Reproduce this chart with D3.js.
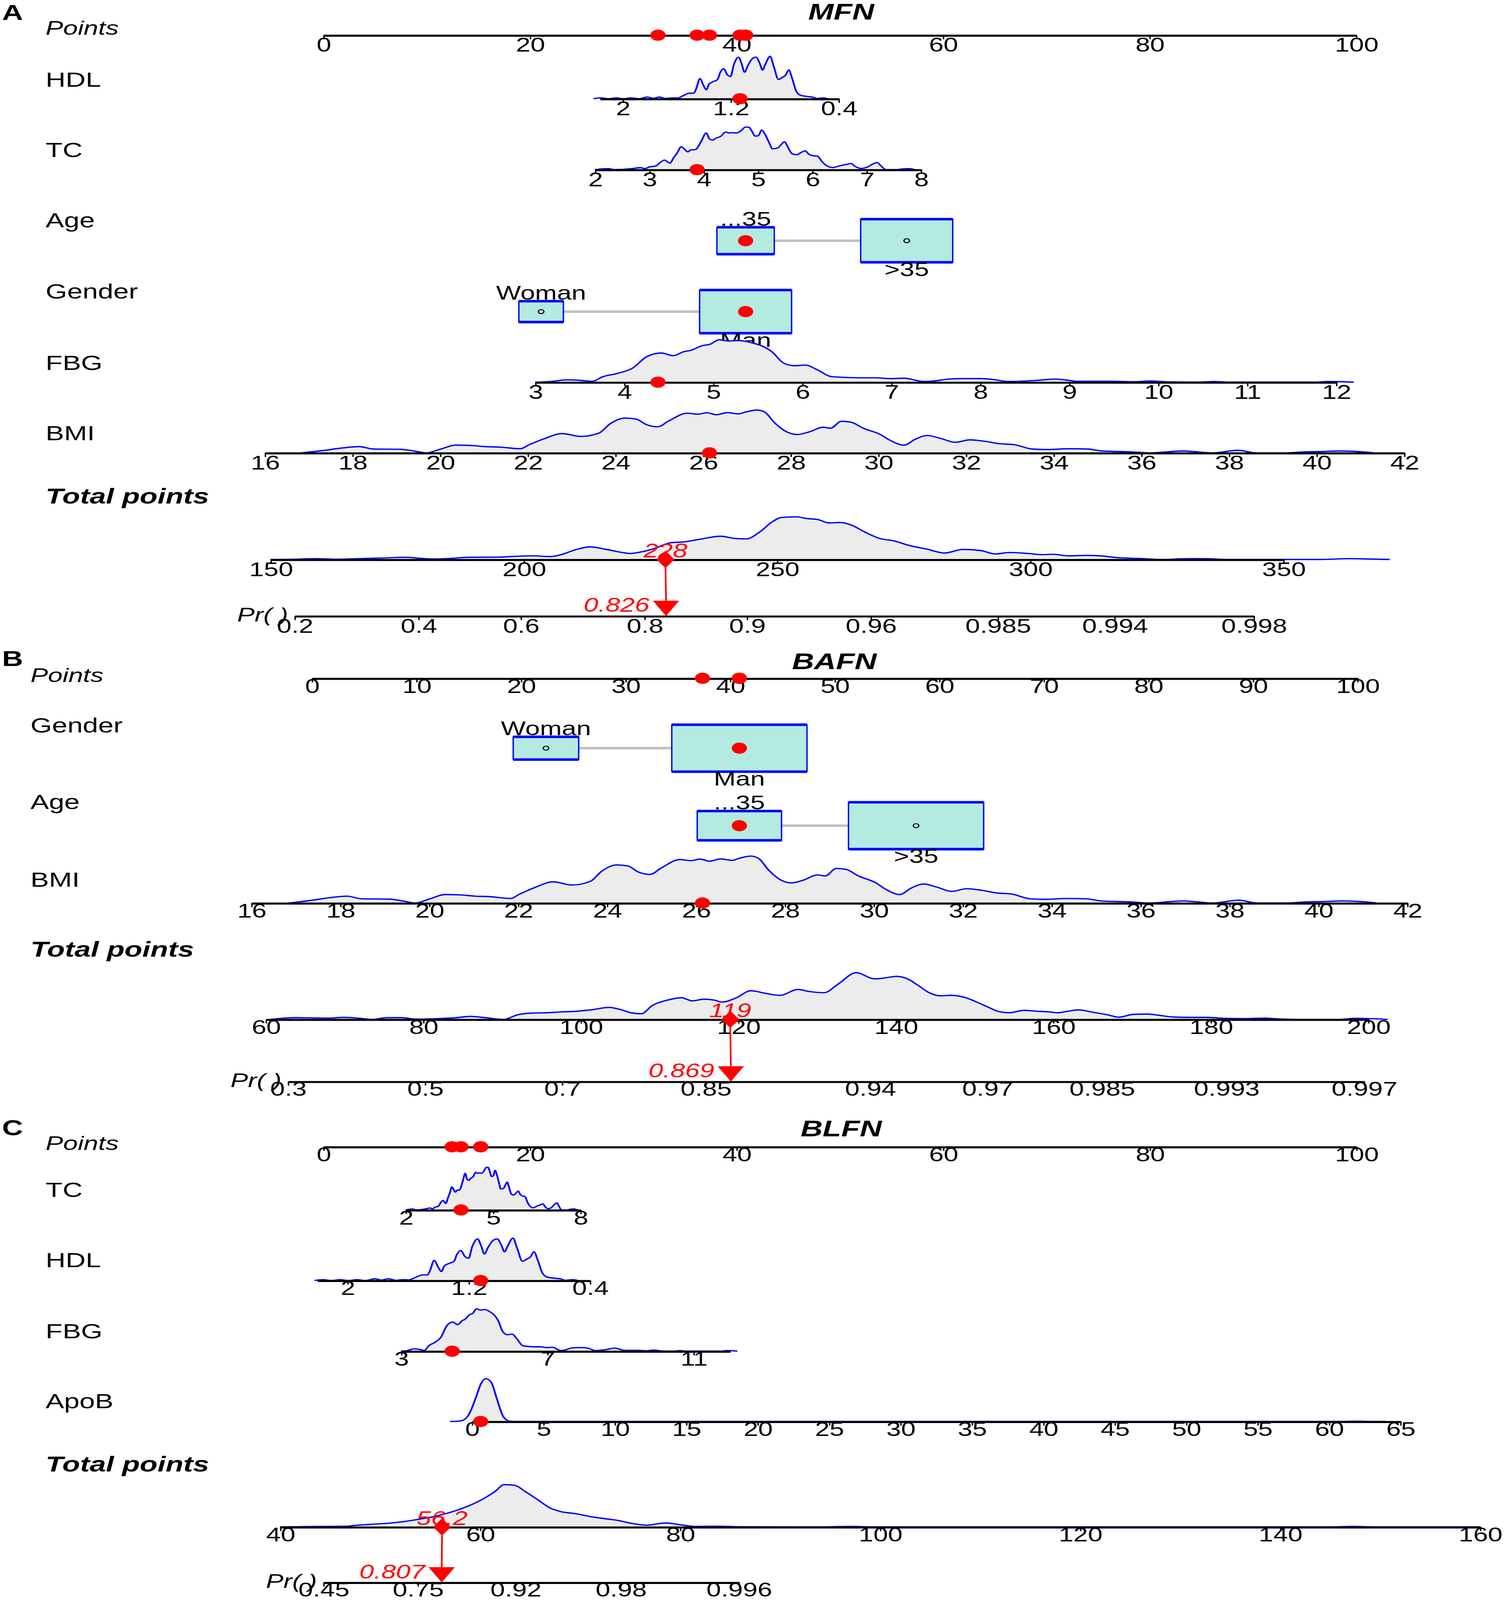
<!DOCTYPE html>
<html>
<head>
<meta charset="utf-8">
<script src="https://cdn.jsdelivr.net/npm/d3@7/dist/d3.min.js"></script>
<style>
  html, body { margin: 0; padding: 0; background: #fff; overflow: hidden; }
  svg { display: block; }
  svg text { font-family: "Liberation Sans", Arial, sans-serif; }
</style>
</head>
<body>
<svg id="chart"></svg>
<script>
// ---------- data ----------
const pointsTicks20 = [0, 20, 40, 60, 80, 100];
const pointsTicks10 = [0, 10, 20, 30, 40, 50, 60, 70, 80, 90, 100];
const hdlTicks = [2, 1.2, 0.4];
const tcTicksA = [2, 3, 4, 5, 6, 7, 8];
const tcTicksC = [2, 5, 8];
const fbgTicksA = [3, 4, 5, 6, 7, 8, 9, 10, 11, 12];
const fbgTicksC = [3, 7, 11];
const bmiTicks = [16, 18, 20, 22, 24, 26, 28, 30, 32, 34, 36, 38, 40, 42];
const apobTicks = [0, 5, 10, 15, 20, 25, 30, 35, 40, 45, 50, 55, 60, 65];
const totalTicksA = [150, 200, 250, 300, 350];
const totalTicksB = [60, 80, 100, 120, 140, 160, 180, 200];
const totalTicksC = [40, 60, 80, 100, 120, 140, 160];
const prTicksA = [0.2, 0.4, 0.6, 0.8, 0.9, 0.96, 0.985, 0.994, 0.998];
const prTicksB = [0.3, 0.5, 0.7, 0.85, 0.94, 0.97, 0.985, 0.993, 0.997];
const prTicksC = [0.45, 0.75, 0.92, 0.98, 0.996];

const genderCats = ["Woman", "Man"];
const genderFreq = [0.19, 0.81];
const ageCats = ["...35", ">35"];
const ageFreq = [0.28, 0.72];
const mfnGenderPts = [21.1, 40.9];
const mfnAgePts = [40.9, 56.5];
const bafnGenderPts = [22.4, 40.9];
const bafnAgePts = [40.9, 57.8];

// observed patient values
const mfnObserved = { HDL: 1.13, TC: 3.88, Age: "...35", Gender: "Man", FBG: 4.38, BMI: 26.15 };
const bafnObserved = { Gender: "Man", Age: "...35", BMI: 26.15 };
const blfnObserved = { TC: 3.9, HDL: 1.12, FBG: 4.4, ApoB: 0.62 };
const totalScores = [228, 119, 56.2];
const totalLabels = ["228", "119", "56.2"];
const probs = [0.826, 0.869, 0.807];
const probLabels = ["0.826", "0.869", "0.807"];

// density shapes [value, relative height]
const hdlDensity = [[2.216,0],[2.16,0.02],[2.104,0],[2.048,0.02],[1.992,0],[1.936,0.02],[1.88,0],[1.816,0.04],[1.776,0.01],[1.728,0.04],[1.68,0.005],[1.632,0.02],[1.592,0.016],[1.552,0.07],[1.504,0.13],[1.472,0.13],[1.456,0.22],[1.427,0.47],[1.4,0.31],[1.379,0.21],[1.36,0.34],[1.328,0.4],[1.296,0.45],[1.277,0.61],[1.251,0.7],[1.224,0.56],[1.2,0.52],[1.176,0.79],[1.141,0.97],[1.117,0.81],[1.096,0.62],[1.072,0.77],[1.04,0.93],[1.011,0.97],[0.984,0.83],[0.963,0.67],[0.944,0.79],[0.907,0.99],[0.88,0.76],[0.845,0.45],[0.816,0.5],[0.792,0.55],[0.768,0.67],[0.744,0.48],[0.712,0.17],[0.68,0.08],[0.64,0.056],[0.592,0.038],[0.56,0.005],[0.512,0.02],[0.48,0]];
const tcDensity = [[2.0,0],[2.24,0.023],[2.36,0],[2.68,0.023],[2.84,0.046],[2.92,0.023],[3.0,0.062],[3.12,0.085],[3.2,0.165],[3.28,0.222],[3.38,0.153],[3.45,0.279],[3.51,0.382],[3.59,0.535],[3.65,0.474],[3.71,0.416],[3.77,0.462],[3.83,0.462],[3.87,0.485],[3.95,0.645],[4.05,0.856],[4.11,0.714],[4.17,0.691],[4.23,0.737],[4.31,0.771],[4.41,0.879],[4.47,0.856],[4.53,0.863],[4.61,0.856],[4.69,0.908],[4.77,0.993],[4.83,0.993],[4.89,0.897],[4.95,0.783],[5.01,0.794],[5.07,0.924],[5.13,0.828],[5.21,0.622],[5.27,0.487],[5.37,0.508],[5.43,0.588],[5.49,0.65],[5.55,0.531],[5.63,0.371],[5.71,0.348],[5.79,0.394],[5.87,0.439],[5.94,0.359],[6.02,0.325],[6.1,0.314],[6.18,0.188],[6.26,0.096],[6.38,0.05],[6.5,0.085],[6.62,0.119],[6.72,0.142],[6.78,0.085],[6.9,0.027],[7.02,0.062],[7.12,0.133],[7.2,0.165],[7.26,0.096],[7.36,0],[7.54,0],[7.66,0.016],[7.78,0.023],[7.9,0]];
const fbgDensity = [[3.0,0],[3.18,0.016],[3.35,0.055],[3.51,0.043],[3.64,0.02],[3.76,0.128],[3.93,0.208],[4.09,0.323],[4.26,0.603],[4.42,0.681],[4.55,0.62],[4.67,0.711],[4.75,0.745],[4.88,0.854],[4.96,0.882],[5.07,0.991],[5.17,0.961],[5.29,0.973],[5.42,0.927],[5.56,0.836],[5.66,0.711],[5.79,0.449],[5.91,0.385],[6.04,0.399],[6.16,0.301],[6.33,0.13],[6.49,0.112],[6.66,0.103],[6.82,0.103],[6.99,0.084],[7.15,0.093],[7.36,0.016],[7.48,0.027],[7.65,0.073],[7.81,0.084],[8.02,0.084],[8.15,0.062],[8.31,0.016],[8.52,0.027],[8.68,0.05],[8.85,0.073],[8.97,0.05],[9.1,0.02],[9.47,0.02],[9.72,0.011],[9.92,0.027],[10.13,0.007],[10.46,0.002],[10.63,0.016],[10.79,0.002],[11.78,0.002],[11.91,0.016],[12.07,0.011],[12.2,0]];
const bmiDensity = [[16.84,0],[17.34,0.056],[17.76,0.113],[18.15,0.147],[18.48,0.09],[19.1,0.083],[19.44,0.038],[19.69,0],[20.02,0.09],[20.36,0.181],[20.69,0.174],[21.03,0.147],[21.37,0.135],[21.83,0.097],[22.04,0.192],[22.37,0.327],[22.79,0.451],[23.21,0.384],[23.63,0.463],[23.88,0.677],[24.22,0.813],[24.47,0.79],[24.72,0.655],[24.97,0.609],[25.22,0.745],[25.64,0.926],[25.89,0.903],[26.09,0.937],[26.31,0.892],[26.56,0.941],[26.81,0.91],[26.98,0.955],[27.23,1.0],[27.4,0.959],[27.65,0.688],[27.9,0.497],[28.15,0.429],[28.41,0.485],[28.74,0.598],[28.91,0.576],[29.16,0.738],[29.38,0.716],[29.66,0.576],[30.05,0.429],[30.25,0.305],[30.59,0.181],[30.84,0.316],[31.12,0.406],[31.42,0.339],[31.76,0.248],[32.09,0.305],[32.43,0.271],[32.77,0.214],[33.1,0.192],[33.52,0.09],[33.86,0.079],[34.36,0.097],[34.78,0.09],[35.11,0.045],[35.78,0.023],[36.2,0],[36.96,0.045],[37.29,0.023],[37.63,0],[38.21,0.061],[38.63,0],[39.3,0],[39.72,0.023],[40.06,0.029],[40.56,0.045],[40.98,0.029],[41.31,0]];
const apobDensity = [[-1.52,0],[-0.82,0.01],[-0.27,0.128],[0.27,0.545],[0.65,0.889],[0.98,1],[1.36,0.914],[1.74,0.545],[2.18,0.128],[2.61,0.01],[2.99,0],[60.9,0],[61.8,0.008],[63.2,0],[64,0]];
const totalDensityA = [[150,0],[154.6,0.005],[158.9,0.02],[163.1,0.005],[167.4,0.02],[171.7,0.032],[176.7,0.05],[179.6,0.027],[182.4,0.011],[186,0.027],[188.9,0.05],[194.6,0.054],[198.1,0.072],[201.7,0.086],[205.3,0.068],[207.4,0.113],[210.3,0.23],[213.1,0.294],[216,0.242],[218.9,0.174],[221,0.14],[223.1,0.174],[226,0.264],[228.9,0.389],[231.7,0.411],[234.6,0.468],[238.9,0.543],[241.7,0.49],[243.9,0.48],[246.7,0.649],[248.9,0.864],[251,0.982],[253.9,0.995],[256,0.955],[258.1,0.932],[260.3,0.853],[262.4,0.864],[264.6,0.808],[267.4,0.638],[270.3,0.49],[273.1,0.434],[276,0.332],[279.6,0.242],[283.1,0.151],[286.7,0.235],[290.3,0.208],[293.1,0.129],[296,0.163],[299.6,0.14],[302.4,0.113],[304.6,0.122],[307.4,0.084],[311,0.095],[313.9,0.084],[317.4,0.041],[321.7,0.023],[326,0],[330.3,0.016],[334.6,0.02],[338.9,0],[350,0],[357.4,0],[363.1,0.02],[367.4,0.009],[371,0]];
const totalDensityB = [[60.6,0],[63.8,0.037],[66.2,0.031],[68,0.027],[69.9,0.043],[71.7,0.027],[73.6,0],[75.4,0.037],[77.3,0.037],[79.1,0.006],[81.9,0.017],[84.2,0.037],[86,0.064],[87.9,0.037],[90.2,0],[92,0.099],[93.9,0.135],[95.7,0.141],[97.6,0.161],[99.4,0.172],[101.3,0.203],[103.6,0.255],[105,0.213],[106.4,0.141],[107.7,0.12],[109.1,0.296],[111,0.41],[112.8,0.462],[114.2,0.395],[115.6,0.43],[117,0.41],[117.9,0.369],[119.8,0.462],[121.6,0.611],[123.5,0.555],[125.3,0.513],[127.6,0.638],[129,0.596],[130.9,0.569],[132.7,0.752],[135,0.996],[137.3,0.865],[138.3,0.876],[140.1,0.917],[141.5,0.865],[142.9,0.72],[144.3,0.565],[145.7,0.503],[147,0.513],[148.9,0.462],[150.3,0.369],[151.7,0.265],[153,0.172],[154.4,0.141],[156.3,0.193],[158.1,0.172],[159.5,0.161],[160.5,0.141],[161.8,0.172],[163.2,0.203],[165.1,0.151],[166.9,0.099],[168.3,0.048],[170.2,0.108],[172,0.114],[173.4,0.089],[175.2,0.052],[177.5,0.043],[179.4,0.043],[181.7,0.023],[184.5,0.017],[186.8,0.027],[189.1,0.006],[191.9,0],[196.5,0],[198.3,0.023],[200.2,0.017],[202.5,0]];
const totalDensityC = [[40,0],[42.1,0.007],[44.4,0.012],[46.7,0.017],[47.5,0.037],[49.1,0.062],[51.4,0.099],[53.7,0.173],[55.7,0.259],[57.6,0.383],[59,0.506],[60.3,0.654],[61.5,0.827],[62.4,0.988],[63.4,0.975],[64.6,0.815],[65.8,0.63],[67.1,0.432],[68.1,0.358],[69.6,0.309],[71.2,0.235],[72.8,0.185],[73.9,0.148],[75.1,0.086],[76.6,0.042],[78.6,0.094],[80.1,0.049],[81.5,0.012],[83.6,0.017],[86.4,0.005],[93.3,0],[97.2,0.012],[99.6,0],[144.6,0],[147.3,0.012],[150.1,0],[160,0]];

// ---------- drawing ----------
// the figure is laid out in the reference's own 1087 x 1568.6 units and
// stretched over whatever area the window actually offers
const W = 1087, H = 1568.6;
const vw = window.innerWidth || 3850, vh = window.innerHeight || 5556;
const svg = d3.select("#chart")
  .attr("width", vw).attr("height", vh)
  .attr("viewBox", `0 0 ${W} ${H}`)
  .attr("preserveAspectRatio", "none");

const RED = "#ff0000", BLUE = "#0000ff";
const logit = p => Math.log(p / (1 - p));

function text(g, str, x, y, opts) {
  opts = opts || {};
  return g.append("text")
    .attr("x", x).attr("y", y)
    .attr("font-size", opts.size || 19)
    .attr("font-style", opts.italic ? "italic" : "normal")
    .attr("font-weight", opts.bold ? "bold" : "normal")
    .attr("text-anchor", opts.anchor || "start")
    .attr("fill", opts.color || "#000")
    .text(str);
}

function drawAxis(g, scale, y, ticks, off, fmt) {
  const ax = d3.axisBottom(scale)
    .tickValues(ticks)
    .tickSize(4)
    .tickSizeOuter(0)
    .tickPadding(off - 4 - 0.71 * 19)
    .tickFormat(fmt || (d => String(d)));
  const a = g.append("g").attr("transform", `translate(0,${y})`).call(ax);
  a.select(".domain").attr("stroke", "#000").attr("stroke-width", 2);
  a.selectAll(".tick line").attr("stroke", "#000").attr("stroke-width", 1);
  a.selectAll(".tick text")
    .attr("font-size", 19).attr("fill", "#000")
    .attr("font-family", '"Liberation Sans", Arial, sans-serif');
}

function drawDensity(g, scale, y, dens, hMax) {
  const area = d3.area()
    .x(d => scale(d[0])).y0(y).y1(d => y - d[1] * hMax)
    .curve(d3.curveMonotoneX);
  const line = d3.line()
    .x(d => scale(d[0])).y(d => y - d[1] * hMax)
    .curve(d3.curveMonotoneX);
  g.append("path").datum(dens).attr("d", area).attr("fill", "#ececec");
  g.append("path").datum(dens).attr("d", line)
    .attr("fill", "none").attr("stroke", BLUE).attr("stroke-width", 1.3);
}

function dot(g, x, y) {
  g.append("circle").attr("cx", x).attr("cy", y).attr("r", 5.5).attr("fill", RED);
}

function drawCat(g, pScale, y, row, maxW, maxH) {
  const fmax = d3.max(row.freq);
  const xs = row.pts.map(p => pScale(p));
  g.append("line").attr("x1", xs[0]).attr("x2", xs[1]).attr("y1", y).attr("y2", y)
    .attr("stroke", "#c0c0c0").attr("stroke-width", 2.5);
  row.cats.forEach((c, i) => {
    const s = Math.sqrt(row.freq[i] / fmax), w = maxW * s, h = maxH * s;
    const x0 = xs[i] - w / 2, y0 = y - h / 2;
    g.append("rect").attr("x", x0).attr("y", y0).attr("width", w).attr("height", h)
      .attr("fill", "#b3ebe1").attr("stroke", BLUE).attr("stroke-width", 1);
    [y0, y0 + h].forEach(yy => g.append("line")
      .attr("x1", x0).attr("x2", x0 + w).attr("y1", yy).attr("y2", yy)
      .attr("stroke", BLUE).attr("stroke-width", 2.5));
    if (i === 0) text(g, c, xs[i], y0 - 1.5, { anchor: "middle" });
    else text(g, c, xs[i], y0 + h + 13.5, { anchor: "middle" });
    if (c === row.value) dot(g, xs[i], y);
    else g.append("circle").attr("cx", xs[i]).attr("cy", y).attr("r", 2)
      .attr("fill", "none").attr("stroke", "#000").attr("stroke-width", 0.9);
  });
  return xs[row.cats.indexOf(row.value)];
}

function panel(cfg) {
  const g = svg.append("g");
  text(g, cfg.letter, 1.5, cfg.letterY, { size: 21, bold: true });
  text(g, cfg.title, cfg.titleX, cfg.titleY, { size: 22, bold: true, italic: true, anchor: "middle" });

  const pScale = d3.scaleLinear().domain([0, 100]).range(cfg.pointsRange);
  text(g, "Points", cfg.labelX, cfg.pointsLabelY, { italic: true });
  drawAxis(g, pScale, cfg.pointsY, cfg.pointsTicks, cfg.off);

  const dotXs = [];
  cfg.rows.forEach(r => {
    text(g, r.name, cfg.labelX, r.labelY, { size: 20 });
    if (r.type === "cont") {
      const s = d3.scaleLinear().domain(r.domain).range(r.range);
      drawDensity(g, s, r.y, r.dens, cfg.densH);
      drawAxis(g, s, r.y, r.ticks, cfg.off);
      const x = s(r.value);
      dot(g, x, r.y);
      dotXs.push(x);
    } else {
      dotXs.push(drawCat(g, pScale, r.y, r, cfg.boxW, cfg.boxH));
    }
  });
  dotXs.forEach(x => dot(g, x, cfg.pointsY));

  // total points
  const t = cfg.total;
  text(g, "Total points", cfg.labelX, t.labelY, { size: 21, bold: true, italic: true });
  const ts = d3.scaleLinear().domain(t.domain).range(t.range);
  drawDensity(g, ts, t.y, t.dens, cfg.densH);
  drawAxis(g, ts, t.y, t.ticks, cfg.off);

  // probability axis (logit spaced)
  const p = cfg.pr;
  const ps = d3.scaleLinear().domain([logit(p.ticks[0]), logit(p.ticks[p.ticks.length - 1])]).range(p.range);
  drawAxis(g, ps, p.y, p.ticks.map(logit), p.off, (d, i) => String(p.ticks[i]));
  text(g, "Pr( )", p.range[0] - 4.5, p.y + 5.5, { italic: true, anchor: "end" });

  const xt = ts(t.score);
  const xp = ps(logit(p.prob));
  g.append("line").attr("x1", xt).attr("x2", xp).attr("y1", t.y + 8).attr("y2", p.y - 15)
    .attr("stroke", RED).attr("stroke-width", 1.2);
  g.append("path")
    .attr("d", `M${xt},${t.y - 8.5}L${xt + 6.5},${t.y}L${xt},${t.y + 8.5}L${xt - 6.5},${t.y}Z`)
    .attr("fill", RED);
  g.append("path")
    .attr("d", `M${xp - 9.5},${p.y - 15}L${xp + 9.5},${p.y - 15}L${xp},${p.y}Z`)
    .attr("fill", RED);
  text(g, t.label, xt, t.y - 2, { italic: true, color: RED, anchor: "middle" });
  text(g, p.label, xp - 12, p.y - 4, { italic: true, color: RED, anchor: "end" });
}

// ---------- panel A : MFN ----------
panel({
  letter: "A", letterY: 19.5, title: "MFN", titleX: 608, titleY: 19,
  labelX: 33, pointsLabelY: 34, pointsY: 34.5, pointsRange: [233.6, 980], pointsTicks: pointsTicks20,
  off: 16.2, densH: 42, boxW: 66.5, boxH: 42.3,
  rows: [
    { type: "cont", name: "HDL", labelY: 85, y: 96.8, domain: [2.17, 0.4], range: [433.4, 606], ticks: hdlTicks, dens: hdlDensity, value: mfnObserved.HDL },
    { type: "cont", name: "TC", labelY: 154, y: 166.3, domain: [2, 8], range: [430, 665.5], ticks: tcTicksA, dens: tcDensity, value: mfnObserved.TC },
    { type: "cat", name: "Age", labelY: 223, y: 236, cats: ageCats, freq: ageFreq, pts: mfnAgePts, value: mfnObserved.Age },
    { type: "cat", name: "Gender", labelY: 292.5, y: 305.5, cats: genderCats, freq: genderFreq, pts: mfnGenderPts, value: mfnObserved.Gender },
    { type: "cont", name: "FBG", labelY: 362.5, y: 374.7, domain: [3, 12], range: [386.8, 965.6], ticks: fbgTicksA, dens: fbgDensity, value: mfnObserved.FBG },
    { type: "cont", name: "BMI", labelY: 431.5, y: 444, domain: [16, 42], range: [191.3, 1014.8], ticks: bmiTicks, dens: bmiDensity, value: mfnObserved.BMI }
  ],
  total: { labelY: 493.5, y: 548.5, domain: [150, 350], range: [195.5, 927.5], ticks: totalTicksA, dens: totalDensityA, score: totalScores[0], label: totalLabels[0] },
  pr: { y: 603.9, range: [212.8, 906], ticks: prTicksA, prob: probs[0], label: probLabels[0], off: 16.6 }
});

// ---------- panel B : BAFN ----------
panel({
  letter: "B", letterY: 653, title: "BAFN", titleX: 603, titleY: 656,
  labelX: 22, pointsLabelY: 668.5, pointsY: 665, pointsRange: [225.3, 981], pointsTicks: pointsTicks10,
  off: 14.3, densH: 46, boxW: 97.7, boxH: 46,
  rows: [
    { type: "cat", name: "Gender", labelY: 718, y: 733.5, cats: genderCats, freq: genderFreq, pts: bafnGenderPts, value: bafnObserved.Gender },
    { type: "cat", name: "Age", labelY: 793, y: 809.5, cats: ageCats, freq: ageFreq, pts: bafnAgePts, value: bafnObserved.Age },
    { type: "cont", name: "BMI", labelY: 869.5, y: 885.3, domain: [16, 42], range: [181.6, 1017], ticks: bmiTicks, dens: bmiDensity, value: bafnObserved.BMI }
  ],
  total: { labelY: 938, y: 999.4, domain: [60, 200], range: [192, 988.8], ticks: totalTicksB, dens: totalDensityB, score: totalScores[1], label: totalLabels[1] },
  pr: { y: 1060.3, range: [208, 985.7], ticks: prTicksB, prob: probs[1], label: probLabels[1], off: 14 }
});

// ---------- panel C : BLFN ----------
panel({
  letter: "C", letterY: 1113, title: "BLFN", titleX: 608, titleY: 1114,
  labelX: 33, pointsLabelY: 1127.5, pointsY: 1124.3, pointsRange: [233.6, 980.2], pointsTicks: pointsTicks20,
  off: 14.2, densH: 42, boxW: 66, boxH: 42,
  rows: [
    { type: "cont", name: "TC", labelY: 1173.5, y: 1186.2, domain: [2, 8], range: [293.2, 419.4], ticks: tcTicksC, dens: tcDensity, value: blfnObserved.TC },
    { type: "cont", name: "HDL", labelY: 1242.5, y: 1255.4, domain: [2.2, 0.4], range: [229.1, 426.3], ticks: hdlTicks, dens: hdlDensity, value: blfnObserved.HDL },
    { type: "cont", name: "FBG", labelY: 1312, y: 1324.7, domain: [3, 12], range: [289.8, 527.6], ticks: fbgTicksC, dens: fbgDensity, value: blfnObserved.FBG },
    { type: "cont", name: "ApoB", labelY: 1380.5, y: 1393.6, domain: [0, 65], range: [341, 1012], ticks: apobTicks, dens: apobDensity, value: blfnObserved.ApoB }
  ],
  total: { labelY: 1442.5, y: 1497, domain: [40, 160], range: [202.4, 1069.6], ticks: totalTicksC, dens: totalDensityC, score: totalScores[2], label: totalLabels[2] },
  pr: { y: 1551.4, range: [233.6, 533.8], ticks: prTicksC, prob: probs[2], label: probLabels[2], off: 13.8 }
});
</script>
</body>
</html>
